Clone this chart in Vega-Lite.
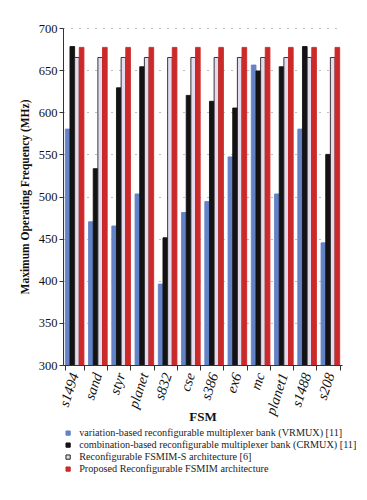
{
  "$schema": "https://vega.github.io/schema/vega-lite/v6.json",
  "width": 279,
  "height": 337,
  "autosize": {"type": "none"},
  "padding": {"left": 63, "top": 28, "right": 25, "bottom": 135},
  "background": "white",
  "config": {
    "font": "Liberation Serif",
    "view": {"stroke": null}
  },
  "data": {
    "values": [
      {"fsm": "s1494", "series": "A", "value": 580},
      {"fsm": "s1494", "series": "B", "value": 678},
      {"fsm": "s1494", "series": "C", "value": 665},
      {"fsm": "s1494", "series": "D", "value": 677},
      {"fsm": "sand", "series": "A", "value": 470},
      {"fsm": "sand", "series": "B", "value": 533},
      {"fsm": "sand", "series": "C", "value": 665},
      {"fsm": "sand", "series": "D", "value": 677},
      {"fsm": "styr", "series": "A", "value": 465},
      {"fsm": "styr", "series": "B", "value": 629},
      {"fsm": "styr", "series": "C", "value": 665},
      {"fsm": "styr", "series": "D", "value": 677},
      {"fsm": "planet", "series": "A", "value": 503},
      {"fsm": "planet", "series": "B", "value": 654},
      {"fsm": "planet", "series": "C", "value": 665},
      {"fsm": "planet", "series": "D", "value": 677},
      {"fsm": "s832", "series": "A", "value": 396},
      {"fsm": "s832", "series": "B", "value": 451},
      {"fsm": "s832", "series": "C", "value": 665},
      {"fsm": "s832", "series": "D", "value": 677},
      {"fsm": "cse", "series": "A", "value": 481},
      {"fsm": "cse", "series": "B", "value": 620},
      {"fsm": "cse", "series": "C", "value": 665},
      {"fsm": "cse", "series": "D", "value": 677},
      {"fsm": "s386", "series": "A", "value": 494},
      {"fsm": "s386", "series": "B", "value": 613},
      {"fsm": "s386", "series": "C", "value": 665},
      {"fsm": "s386", "series": "D", "value": 677},
      {"fsm": "ex6", "series": "A", "value": 547},
      {"fsm": "ex6", "series": "B", "value": 605},
      {"fsm": "ex6", "series": "C", "value": 665},
      {"fsm": "ex6", "series": "D", "value": 677},
      {"fsm": "mc", "series": "A", "value": 656},
      {"fsm": "mc", "series": "B", "value": 649},
      {"fsm": "mc", "series": "C", "value": 665},
      {"fsm": "mc", "series": "D", "value": 677},
      {"fsm": "planet1", "series": "A", "value": 503},
      {"fsm": "planet1", "series": "B", "value": 654},
      {"fsm": "planet1", "series": "C", "value": 665},
      {"fsm": "planet1", "series": "D", "value": 677},
      {"fsm": "s1488", "series": "A", "value": 580},
      {"fsm": "s1488", "series": "B", "value": 678},
      {"fsm": "s1488", "series": "C", "value": 665},
      {"fsm": "s1488", "series": "D", "value": 677},
      {"fsm": "s208", "series": "A", "value": 445},
      {"fsm": "s208", "series": "B", "value": 550},
      {"fsm": "s208", "series": "C", "value": 665},
      {"fsm": "s208", "series": "D", "value": 677}
    ]
  },
  "mark": {"type": "bar", "strokeWidth": 0.9, "clip": true},
  "encoding": {
    "x": {
      "field": "fsm",
      "type": "nominal",
      "sort": null,
      "scale": {"paddingInner": 0.2, "paddingOuter": 0.1},
      "axis": {
        "title": "FSM",
        "titleFont": "Liberation Serif",
        "titleFontSize": 13,
        "titleFontWeight": "bold",
        "titleColor": "#111",
        "titlePadding": -6,
        "labelFont": "Liberation Serif",
        "labelAngle": -72,
        "labelFontSize": 14.5,
        "labelFontStyle": "italic",
        "labelColor": "#111",
        "labelPadding": 3,
        "tickBand": "extent",
        "tickColor": "#333",
        "tickSize": 5,
        "domainColor": "#333",
        "grid": false
      }
    },
    "xOffset": {"field": "series", "type": "nominal", "sort": ["A", "B", "C", "D"], "scale": {"paddingInner": 0}},
    "y": {
      "field": "value",
      "type": "quantitative",
      "scale": {"domain": [300, 700], "nice": false, "zero": false},
      "axis": {
        "title": "Maximum Operating Frequency (MHz)",
        "titleFont": "Liberation Serif",
        "titleFontSize": 11.5,
        "titleFontWeight": "bold",
        "titleColor": "#111",
        "titlePadding": 8,
        "values": [300, 350, 400, 450, 500, 550, 600, 650, 700],
        "labelFont": "Liberation Serif",
        "labelFontSize": 12.5,
        "labelColor": "#111",
        "tickSize": 4,
        "tickColor": "#333",
        "domainColor": "#333",
        "gridColor": "#777",
        "gridDash": [1, 7],
        "gridWidth": 1
      }
    },
    "fill": {
      "field": "series",
      "type": "nominal",
      "sort": ["A", "B", "C", "D"],
      "scale": {
        "domain": ["A", "B", "C", "D"],
        "range": ["#6482c6", "#131313", "#e4dcee", "#cc2a2a"]
      },
      "legend": {
        "orient": "bottom",
        "direction": "vertical",
        "title": null,
        "symbolType": "square",
        "symbolSize": 18,
        "symbolStrokeWidth": 1,
        "labelFont": "Liberation Serif",
        "labelFontSize": 10.2,
        "labelColor": "#222",
        "labelLimit": 400,
        "labelOffset": 6,
        "rowPadding": 1,
        "offset": 4,
        "labelExpr": "datum.value == 'A' ? 'variation-based reconfigurable multiplexer bank (VRMUX) [11]' : datum.value == 'B' ? 'combination-based reconfigurable multiplexer bank (CRMUX) [11]' : datum.value == 'C' ? 'Reconfigurable FSMIM-S architecture [6]' : 'Proposed Reconfigurable FSMIM architecture'"
      }
    },
    "stroke": {
      "field": "series",
      "type": "nominal",
      "sort": ["A", "B", "C", "D"],
      "scale": {
        "domain": ["A", "B", "C", "D"],
        "range": ["#6482c6", "#131313", "#222222", "#cc2a2a"]
      },
      "legend": null
    }
  }
}
